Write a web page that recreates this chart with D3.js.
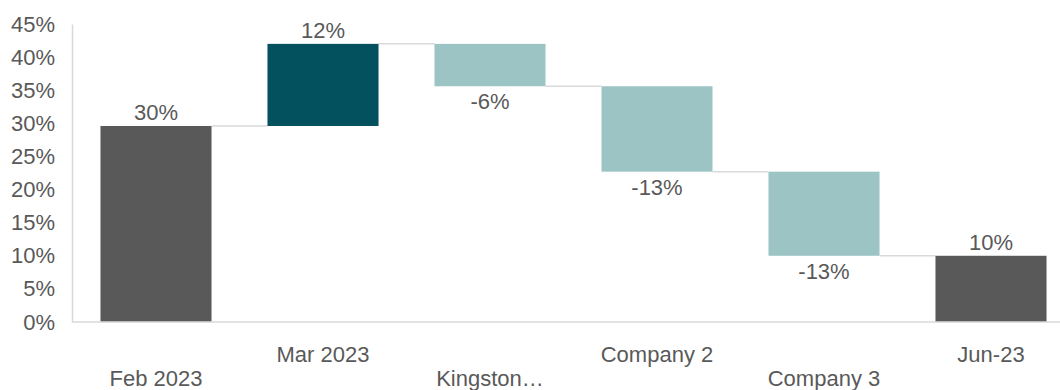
<!DOCTYPE html>
<html>
<head>
<meta charset="utf-8">
<script src="https://cdn.jsdelivr.net/npm/d3@7"></script>
<style>
  body { margin: 0; background: #fff; }
  text { font-family: "Liberation Sans", Arial, sans-serif; fill: #595959; }
</style>
</head>
<body>
<div id="chart"></div>
<script>
// waterfall data
var categories = ["Feb 2023", "Mar 2023", "Kingston\u2026", "Company 2", "Company 3", "Jun-23"];
var values = [29.6, 12.4, -6.4, -12.9, -12.7, 10];
var kinds = ["total", "up", "down", "down", "down", "total"];
var yTicks = [0, 5, 10, 15, 20, 25, 30, 35, 40, 45];

chart_width = 1060
chart_height = 390
font_size = 22
var colors = { total: "#595959", up: "#03505f", down: "#9dc4c4" };

var svg = d3.select('#chart')
  .append('svg')
  .attr('width', chart_width)
  .attr('height', chart_height)

// running totals -> start/end of each bar
var running = 0;
var bars = categories.map(function(c, i) {
  var d = { name: c, value: values[i], kind: kinds[i] };
  if (d.kind == "total") {
    d.start = 0; d.end = d.value; running = d.value;
  } else {
    d.start = running; d.end = running + d.value; running = d.end;
  }
  return d;
});

var x = d3.scaleBand()
  .domain(categories)
  .range([72.5, 1074.5])
  .paddingInner(0.335)
  .paddingOuter(0.1675);

var y = d3.scaleLinear()
  .domain([0, 45])
  .range([322, 24]);

// y axis
var yAxis = svg.append('g')
  .attr('transform', 'translate(72,0)')
  .call(d3.axisLeft(y).tickValues(yTicks).tickSize(0).tickPadding(17).tickFormat(function(d) { return d + "%"; }));
yAxis.select('.domain').attr('stroke', '#d9d9d9').attr('stroke-width', 1.5);
yAxis.selectAll('text').attr('font-size', font_size).attr('fill', '#595959')
  .style('font-family', '"Liberation Sans", Arial, sans-serif');

// connectors
svg.selectAll('line.conn')
  .data(bars.slice(0, -1))
  .enter()
  .append('line')
  .attr('class', 'conn')
  .attr('x1', function(d) { return x(d.name) + x.bandwidth(); })
  .attr('x2', function(d, i) { return x(categories[i + 1]); })
  .attr('y1', function(d) { return y(d.end); })
  .attr('y2', function(d) { return y(d.end); })
  .attr('stroke', '#d9d9d9')
  .attr('stroke-width', 1.5);

// bars
svg.selectAll('rect')
  .data(bars)
  .enter()
  .append('rect')
  .attr('x', function(d) { return x(d.name); })
  .attr('y', function(d) { return y(Math.max(d.start, d.end)); })
  .attr('width', x.bandwidth())
  .attr('height', function(d) { return Math.abs(y(d.start) - y(d.end)); })
  .attr('fill', function(d) { return colors[d.kind]; });

// x axis line
svg.append('line')
  .attr('x1', 72).attr('x2', chart_width)
  .attr('y1', y(0)).attr('y2', y(0))
  .attr('stroke', '#d9d9d9')
  .attr('stroke-width', 1.5);

// data labels (plain hyphen for negatives, like the source)
var fmt = function(v) { return Math.round(v) + "%"; };
svg.selectAll('text.val')
  .data(bars)
  .enter()
  .append('text')
  .attr('class', 'val')
  .attr('x', function(d) { return x(d.name) + x.bandwidth() / 2; })
  .attr('y', function(d) {
    if (d.value < 0) return y(d.end) + 23;
    return y(d.end) - 6;
  })
  .attr('text-anchor', 'middle')
  .attr('font-size', font_size)
  .text(function(d) { return fmt(d.value); });

// category labels, staggered on two rows
svg.selectAll('text.cat')
  .data(categories)
  .enter()
  .append('text')
  .attr('class', 'cat')
  .attr('x', function(d) { return x(d) + x.bandwidth() / 2; })
  .attr('y', function(d, i) { return i % 2 == 0 ? 386 : 362; })
  .attr('text-anchor', 'middle')
  .attr('font-size', font_size)
  .text(function(d) { return d; });
</script>
</body>
</html>
